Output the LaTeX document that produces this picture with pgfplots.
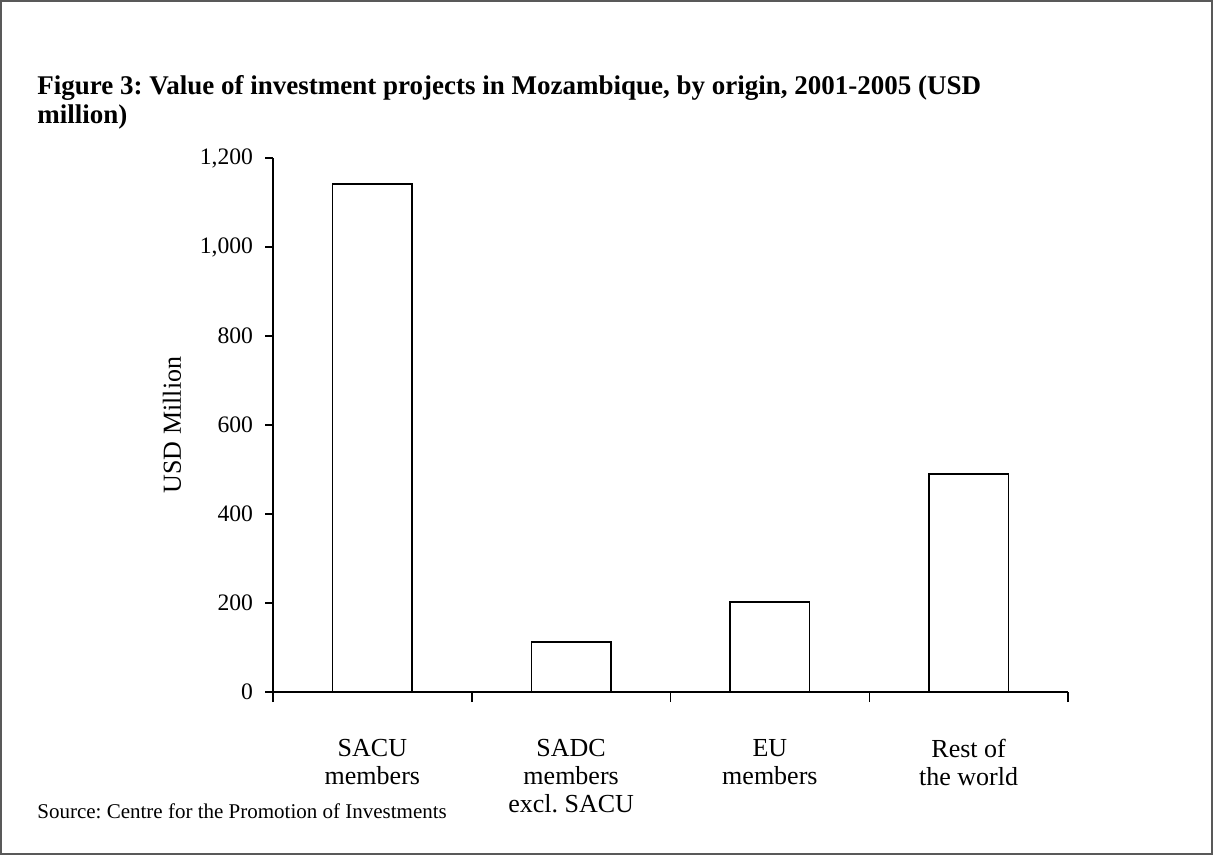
\documentclass[border=0pt]{standalone}
\usepackage{pgfplots}
\pgfplotsset{compat=1.18}
\usepackage{fontspec}
\setmainfont{Liberation Serif}
\frenchspacing
\begin{document}
\begin{tikzpicture}
\useasboundingbox (0pt,0pt) rectangle (606.5pt,-427.5pt);
\draw[draw=black!65, line width=1pt] (0.5pt,-0.5pt) rectangle (606pt,-427pt);
\node[anchor=base west, align=left, font=\bfseries\fontsize{13.5}{14.5}\selectfont, inner sep=0pt] at (18.5pt,-62pt)
  {Figure 3: Value of investment projects in Mozambique, by origin, 2001-2005 (USD\\million)};
\node[anchor=base west, font=\fontsize{10.5}{12}\selectfont, inner sep=0pt] at (18.5pt,-409pt)
  {Source: Centre for the Promotion of Investments};
\begin{axis}[
  at={(136.5pt,-346pt)}, anchor=south west,
  scale only axis, width=397.5pt, height=267pt,
  xmin=0, xmax=4, ymin=0, ymax=1200,
  axis x line*=bottom, axis y line*=left,
  axis line style={line width=0.75pt, -},
  tick align=outside,
  major tick length=4pt, minor tick length=5pt,
  tick style={line width=0.75pt, black},
  xtick={0.5,1.5,2.5,3.5},
  minor xtick={0,1,2,3,4},
  major x tick style={draw=none},
  xticklabels={SACU\\members, SADC\\members\\excl. SACU, EU\\members, Rest of\\the world},
  xticklabel style={align=center, font=\fontsize{13}{14}\selectfont, anchor=north, yshift=-16pt},
  ytick={0,200,400,600,800,1000,1200},
  yticklabel style={font=\fontsize{11.8}{14}\selectfont, xshift=-2.5pt},
  /pgf/number format/assume math mode=true,
  /pgf/number format/1000 sep={,},
  ylabel={USD Million},
  every axis y label/.style={at={(axis description cs:-0.127,0.5)}, rotate=90, anchor=center, font=\fontsize{13}{14}\selectfont},
  clip=false,
]
\addplot[ybar, bar width=0.4, fill=white, draw=black, line width=0.75pt]
  coordinates {(0.5,1142) (1.5,112) (2.5,202) (3.5,490)};
\end{axis}
\end{tikzpicture}
\end{document}
